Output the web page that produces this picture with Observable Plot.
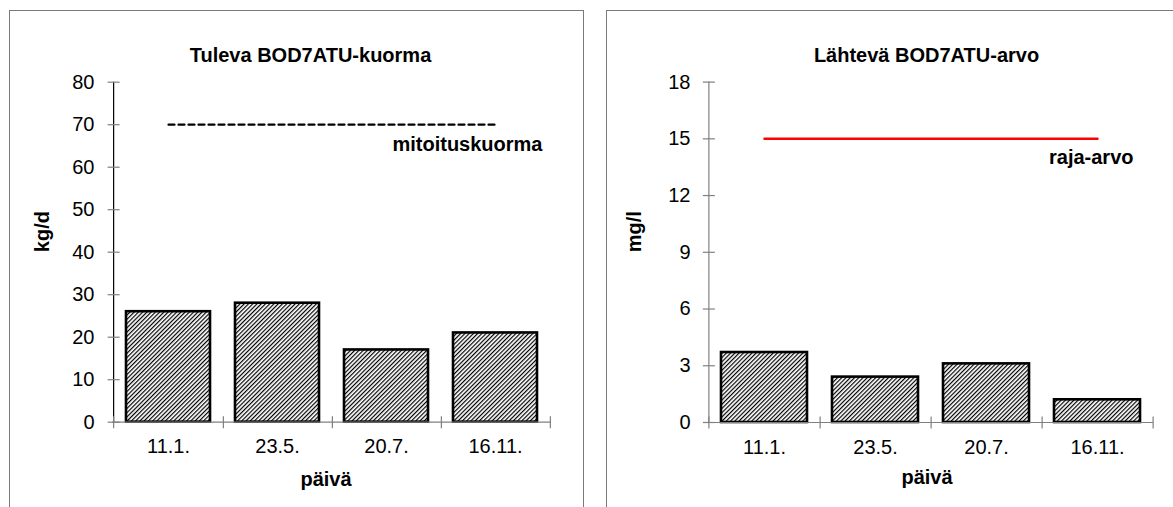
<!DOCTYPE html>
<html><head><meta charset="utf-8">
<script src="https://cdn.jsdelivr.net/npm/d3@7"></script>
<script src="https://cdn.jsdelivr.net/npm/@observablehq/plot@0.6"></script>
<style>
body{margin:0;background:#fff;width:1173px;height:507px;overflow:hidden;position:relative;font-family:"Liberation Sans",Arial,sans-serif}
.panel{position:absolute;top:10px;height:540px;border:1px solid #7a7a7a;box-sizing:border-box}
#p1{left:9px;width:575px}
#p2{left:606px;width:620px}
.chart{position:absolute;top:0}
</style></head><body>
<div class="panel" id="p1"></div><div class="panel" id="p2"></div>
<div class="chart" id="c1" style="left:0"></div>
<div class="chart" id="c2" style="left:595px"></div>
<script>
// ---- data ----
const dates = ["11.1.", "23.5.", "20.7.", "16.11."];
const loadValues = [26, 28, 17, 21];          // Tuleva BOD7ATU-kuorma, kg/d
const designLoad = [70, 70, 70, 70];          // mitoituskuorma
const outValues = [3.7, 2.4, 3.1, 1.2];       // Lähtevä BOD7ATU-arvo, mg/l
const limitValues = [15, 15, 15, 15];         // raja-arvo
const loadTicks = [0, 10, 20, 30, 40, 50, 60, 70, 80];
const outTicks = [0, 3, 6, 9, 12, 15, 18];
const titles = ["Tuleva BOD7ATU-kuorma", "Lähtevä BOD7ATU-arvo"];
const yLabels = ["kg/d", "mg/l"];
const xLabel = "päivä";
const refLabels = ["mitoituskuorma", "raja-arvo"];

const FONT = '"Liberation Sans", Arial, sans-serif';
const vtick = {draw(ctx) { ctx.moveTo(0, -6); ctx.lineTo(0, 6); }};
const htick = {draw(ctx) { ctx.moveTo(-6, 0); ctx.lineTo(6, 0); }};

function chart(o) {
  const data = dates.map((d, i) => ({date: d, value: o.values[i], ref: o.ref[i]}));
  const step = (o.width - o.ml - o.mr) / dates.length;
  const svg = Plot.plot({
    width: o.width, height: 507,
    marginLeft: o.ml, marginRight: o.mr, marginTop: o.mt, marginBottom: o.mb,
    style: {fontFamily: FONT, fontSize: "20px", background: "transparent", color: "#000", overflow: "visible"},
    x: {domain: dates, paddingInner: 0.225, paddingOuter: 0.1125, axis: null},
    y: {domain: [0, o.ticks[o.ticks.length - 1]], axis: null},
    marks: [
      Plot.barY(data, {x: "date", y: "value", fill: `url(#${o.hatch})`, stroke: "#000", strokeWidth: 2.6}),
      Plot.ruleY([0], {stroke: "#808080", strokeWidth: 1.2}),
      Plot.ruleX([dates[0]], {y1: 0, y2: o.ticks[o.ticks.length - 1], dx: -step / 2, stroke: o.axisColor, strokeWidth: 1.2}),
      Plot.dot(dates, {x: d => d, y: 0, dx: step / 2, symbol: vtick, fill: "none", stroke: "#808080", strokeWidth: 1.2}),
      Plot.dot([dates[0]], {x: d => d, y: 0, dx: -step / 2, symbol: vtick, fill: "none", stroke: "#808080", strokeWidth: 1.2}),
      Plot.dot(o.ticks, {x: () => dates[0], y: d => d, dx: -step / 2, symbol: htick, fill: "none", stroke: "#808080", strokeWidth: 1.2}),
      Plot.axisY({ticks: o.ticks, tickSize: 0, tickPadding: 18, fontSize: 20, label: null}),
      Plot.axisX({tickSize: 0, tickPadding: 17, fontSize: 20, label: null}),
      Plot.lineY(data, {x: "date", y: "ref", stroke: o.refColor, strokeWidth: o.refWidth, strokeDasharray: o.refDash}),
      Plot.text([data[data.length - 1]], {x: "date", y: "ref", text: () => o.refLabel, textAnchor: "end", dx: o.refDx, dy: o.refDy, fontWeight: "bold", fontSize: 20}),
      Plot.text([o.title], {text: d => d, frameAnchor: "top-left", dx: o.titleX, dy: -34, textAnchor: "middle", fontWeight: "bold", fontSize: 20}),
      Plot.text([o.yLabel], {text: d => d, frameAnchor: "left", dx: o.yLabelDx, rotate: -90, fontWeight: "bold", fontSize: 20}),
      Plot.text([xLabel], {text: d => d, frameAnchor: "bottom", dx: o.xLabelDx, dy: o.xLabelDy, fontWeight: "bold", fontSize: 20})
    ]
  });
  const ns = "http://www.w3.org/2000/svg";
  const defs = document.createElementNS(ns, "defs");
  defs.innerHTML = `<pattern id="${o.hatch}" patternUnits="userSpaceOnUse" width="3" height="10" patternTransform="rotate(45)">
    <rect width="3" height="10" fill="#fff"/><rect width="1.2" height="10" fill="#000"/></pattern>`;
  svg.insertBefore(defs, svg.firstChild);
  return svg;
}

document.getElementById("c1").appendChild(chart({
  width: 595, ml: 112, mr: 44, mt: 81.7, mb: 85.3,
  values: loadValues, ref: designLoad, ticks: loadTicks, hatch: "hatchA",
  axisColor: "#000", refColor: "#000", refWidth: 2.2, refDash: "6,4",
  refLabel: refLabels[0], refDx: 47, refDy: 20,
  title: titles[0], titleX: 198, yLabel: yLabels[0], yLabelDx: -70, xLabelDx: -6, xLabelDy: 64
}));
document.getElementById("c2").appendChild(chart({
  width: 578, ml: 113, mr: 20, mt: 81.6, mb: 85,
  values: outValues, ref: limitValues, ticks: outTicks, hatch: "hatchB",
  axisColor: "#808080", refColor: "#ff0000", refWidth: 2.5, refDash: null,
  refLabel: refLabels[1], refDx: 36, refDy: 19,
  title: titles[1], titleX: 218, yLabel: yLabels[1], yLabelDx: -74, xLabelDx: -4, xLabelDy: 61
}));
</script>
</body></html>
